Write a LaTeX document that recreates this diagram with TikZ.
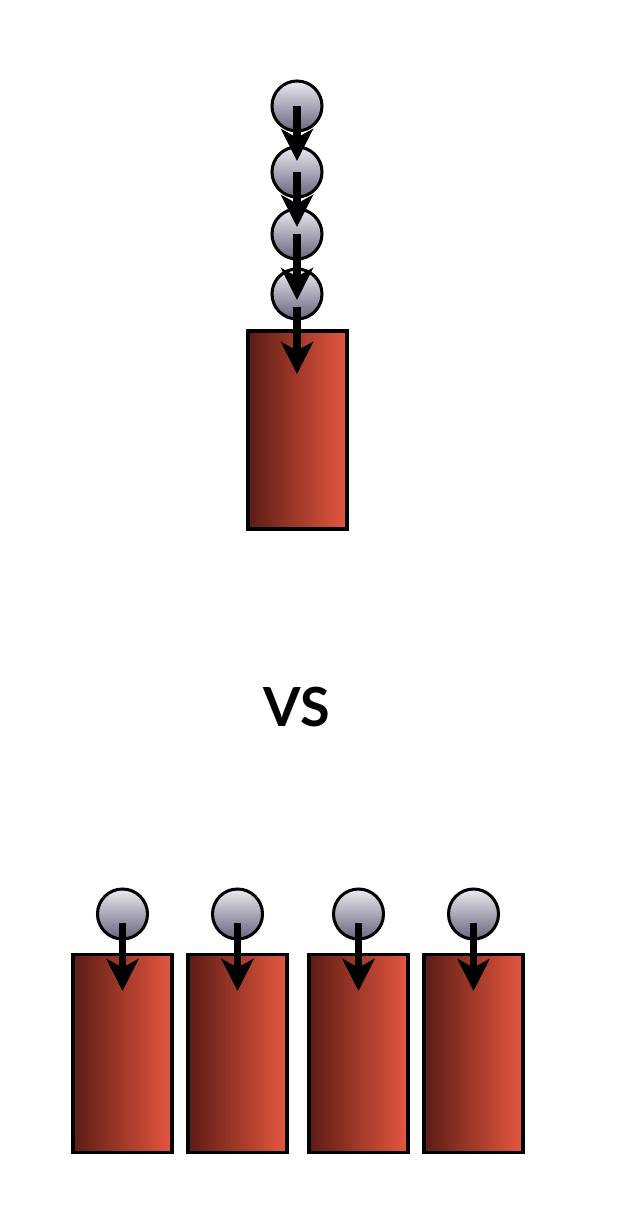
\documentclass[tikz,border=0pt]{standalone}
\usepackage{fontspec}
\setsansfont{Lato}
\usetikzlibrary{arrows.meta}
\begin{document}
\begin{tikzpicture}[x=0.03cm, y=-0.03cm]
  \definecolor{bindark}{rgb}{0.36,0.11,0.08}
  \definecolor{binlight}{rgb}{0.90,0.34,0.25}
  \definecolor{balltop}{rgb}{0.92,0.92,0.94}
  \definecolor{ballbot}{rgb}{0.40,0.40,0.50}
  \tikzstyle{ball}=[circle, draw, line width=2.6pt, minimum size=1.5cm, inner sep=0pt, top color=balltop, bottom color=ballbot]
  \tikzstyle{bin}=[rectangle, draw, line width=2.6pt, minimum width=2.97cm, minimum height=5.94cm, inner sep=0pt, left color=bindark, right color=binlight]
  \tikzstyle{arr}=[line width=6pt, -{Stealth[length=0.96cm, width=0.96cm, inset=0.26cm]}]

  \useasboundingbox (0,0) rectangle (630,1220);

  % Oben: vier Auftraege hintereinander auf einem Rechner
  \node[bin] (bin0) at (297.5,430) {};
  \node[ball] (job1) at (297,106) {};
  \node[ball] (job2) at (297,172) {};
  \node[ball] (job3) at (297,234) {};
  \node[ball] (job4) at (297,294) {};
  \coordinate (tip1) at (297,161);
  \coordinate (tip2) at (297,227);
  \coordinate (tip3) at (297,300);
  \coordinate (tip4) at (297,374);

  \draw[arr] (job1.center) -- (tip1);
  \draw[arr] (job2.center) -- (tip2);
  \draw[arr] (job3.center) -- (tip3);
  \draw[arr] ([yshift=-0.4cm]job4.center) -- (tip4);

  \node[font=\sffamily\bfseries\fontsize{46}{50}\selectfont] (vs) at (297,707) {VS};

  % Unten: jeder Auftrag auf einem eigenen Rechner
  \foreach \i/\x in {1/122.5, 2/237.5, 3/358.5, 4/473.5} {
    \node[bin] (pbin\i) at (\x,1053.5) {};
    \node[ball] (pjob\i) at (\x,914) {};
    \coordinate (ptip\i) at (\x,991);
    \draw[arr] ([yshift=-0.27cm]pjob\i.center) -- (ptip\i);
  }
\end{tikzpicture}
\end{document}
